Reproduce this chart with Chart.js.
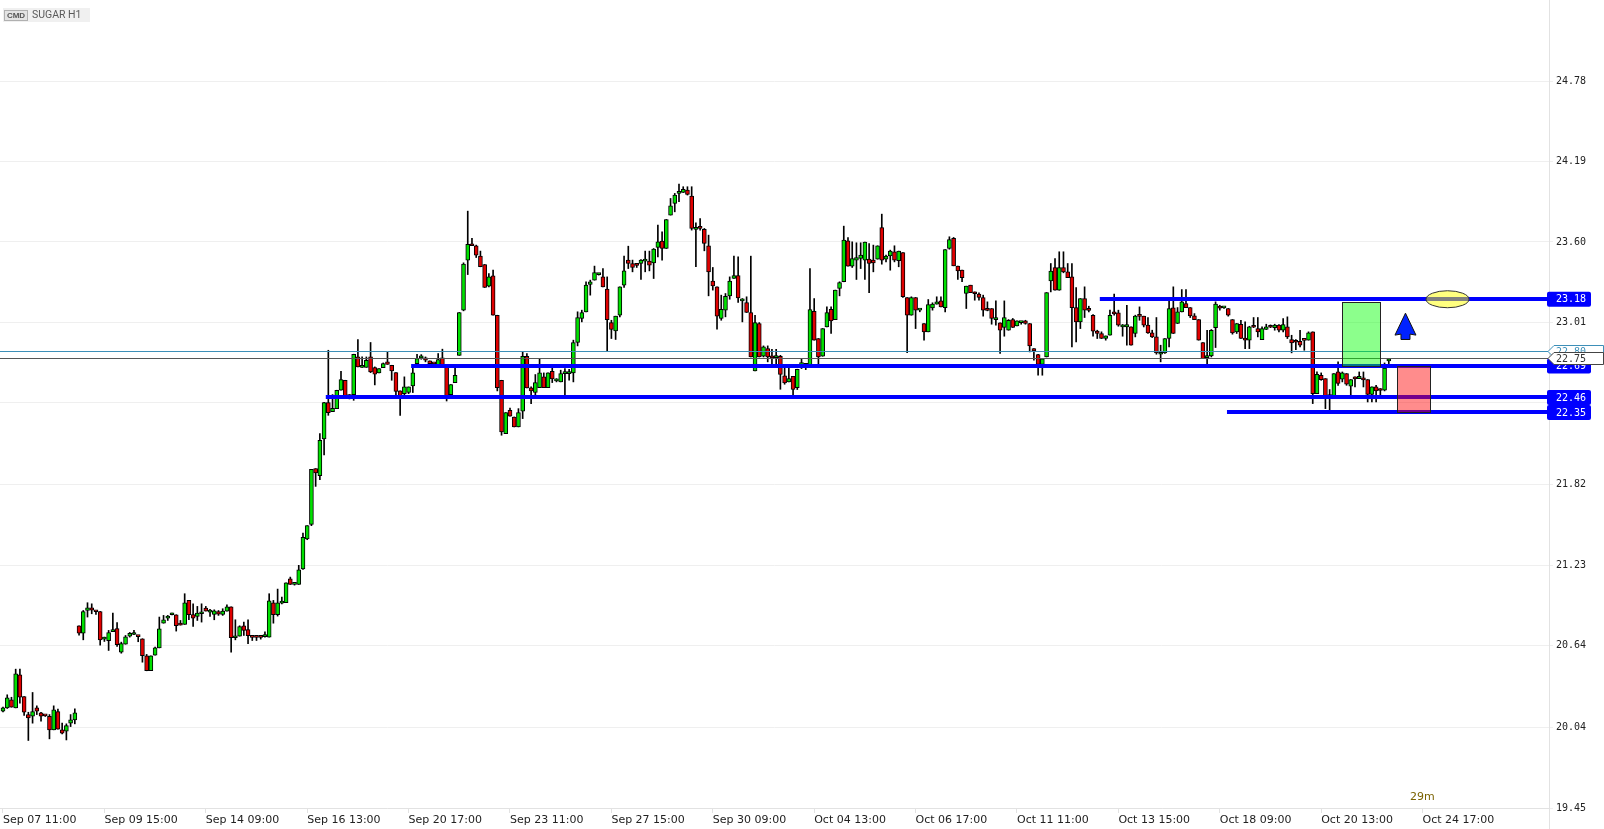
<!DOCTYPE html>
<html>
<head>
<meta charset="utf-8">
<script src="https://cdn.jsdelivr.net/npm/chart.js@4.4.0/dist/chart.umd.min.js"></script>
<style>
html, body { margin: 0; padding: 0; background: #fff; }
#wrap { position: relative; width: 1604px; height: 829px; }
</style>
</head>
<body>
<div id="wrap"><canvas id="myChart"></canvas></div>
<script>
//hourly candles (index 0 = Sep 07 11:00)
const opens = [
20.160,20.184,20.243,20.184,20.426,20.267,20.135,20.123,20.184,20.148,
20.128,20.123,20.023,20.157,20.023,20.013,20.072,20.096,20.786,20.732,
20.898,20.918,20.891,20.891,20.688,20.676,20.742,20.766,20.593,20.651,
20.710,20.722,20.708,20.691,20.566,20.456,20.571,20.624,20.805,20.842,
20.867,20.867,20.803,20.796,20.972,20.869,20.854,20.874,20.916,20.886,
20.869,20.891,20.869,20.894,20.925,20.698,20.710,20.786,20.759,20.703,
20.703,20.703,20.706,20.703,20.955,20.867,20.952,20.955,21.131,21.089,
21.089,21.202,21.422,21.530,21.938,21.887,22.156,22.422,22.356,22.378,
22.513,22.586,22.464,22.481,22.757,22.681,22.681,22.757,22.679,22.640,
22.679,22.721,22.696,22.642,22.508,22.488,22.496,22.545,22.708,22.750,
22.750,22.728,22.708,22.696,22.750,22.684,22.481,22.569,22.769,23.100,
23.467,23.582,23.572,23.496,23.435,23.276,23.352,23.063,22.586,22.195,
22.366,22.317,22.244,22.359,22.762,22.530,22.496,22.532,22.611,22.532,
22.652,22.581,22.574,22.635,22.635,22.640,22.863,23.039,23.088,23.288,
23.320,23.361,23.344,23.254,23.009,22.948,23.063,23.283,23.467,23.442,
23.430,23.442,23.459,23.459,23.447,23.560,23.606,23.552,23.797,23.882,
23.956,23.963,23.980,23.936,23.692,23.706,23.692,23.572,23.313,23.271,
23.039,23.100,23.205,23.332,23.354,23.168,23.156,23.083,22.655,23.002,
22.762,22.818,22.752,22.752,22.762,22.618,22.574,22.615,22.532,22.701,
22.696,22.696,23.092,22.892,22.762,22.977,23.107,23.031,23.259,23.308,
23.608,23.423,23.467,23.479,23.467,23.474,23.467,23.474,23.706,23.474,
23.498,23.528,23.462,23.523,23.193,23.063,23.193,23.100,23.002,22.941,
23.117,23.144,23.168,23.119,23.552,23.626,23.423,23.393,23.222,23.283,
23.222,23.217,23.193,23.100,23.112,23.031,23.007,22.973,22.953,23.031,
22.985,23.009,23.022,23.002,22.819,22.774,22.703,22.757,23.315,23.413,
23.246,23.413,23.381,23.344,23.119,23.014,23.185,23.100,23.063,22.946,
22.929,22.892,22.916,23.075,23.080,22.977,22.977,22.977,22.929,23.056,
23.056,22.990,22.933,22.904,22.777,22.787,22.892,23.117,23.002,23.087,
23.149,23.119,23.058,23.031,22.862,22.752,22.765,22.972,23.117,23.117,
23.112,23.031,22.941,22.997,22.892,22.880,22.977,22.965,22.884,22.958,
22.977,22.972,22.990,22.953,22.977,22.884,22.867,22.872,22.880,22.880,
22.941,22.488,22.623,22.598,22.452,22.464,22.647,22.594,22.635,22.542,
22.598,22.598,22.591,22.591,22.483,22.537,22.513,22.513,22.728
];
const highs = [
20.189,20.280,20.262,20.468,20.468,20.267,20.152,20.297,20.199,20.152,
20.130,20.135,20.199,20.175,20.072,20.067,20.135,20.177,20.786,20.898,
20.955,20.947,20.894,20.891,20.703,20.752,20.879,20.810,20.666,20.715,
20.737,20.752,20.710,20.691,20.576,20.566,20.629,20.850,20.862,20.862,
20.879,20.867,20.825,21.021,20.972,20.947,20.928,20.947,20.928,20.906,
20.903,20.898,20.911,20.940,20.925,20.830,20.786,20.813,20.830,20.705,
20.705,20.705,20.742,21.021,20.972,21.055,20.996,21.101,21.143,21.094,
21.229,21.466,21.520,21.933,21.938,22.195,22.425,22.806,22.481,22.513,
22.652,22.586,22.481,22.777,22.885,22.757,22.757,22.863,22.684,22.672,
22.713,22.792,22.696,22.642,22.508,22.611,22.537,22.684,22.777,22.774,
22.757,22.728,22.710,22.782,22.814,22.684,22.554,22.684,23.083,23.447,
23.826,23.626,23.577,23.533,23.435,23.369,23.393,23.063,22.586,22.349,
22.383,22.317,22.378,22.794,22.782,22.537,22.628,22.740,22.640,22.640,
22.677,22.598,22.660,22.672,22.667,22.880,23.088,23.100,23.308,23.320,
23.423,23.369,23.405,23.344,23.026,23.056,23.271,23.496,23.569,23.467,
23.437,23.471,23.533,23.533,23.552,23.723,23.675,23.765,23.919,23.956,
24.024,24.005,24.005,24.005,23.740,23.772,23.699,23.650,23.413,23.271,
23.210,23.222,23.344,23.496,23.491,23.185,23.198,23.496,23.063,23.009,
22.838,22.838,22.813,22.813,22.769,22.679,22.679,22.615,22.667,22.740,
22.708,23.405,23.185,22.892,22.965,23.124,23.124,23.247,23.308,23.716,
23.633,23.601,23.594,23.594,23.599,23.589,23.577,23.572,23.804,23.503,
23.540,23.572,23.533,23.523,23.193,23.198,23.193,23.102,23.002,23.178,
23.154,23.198,23.198,23.545,23.638,23.633,23.423,23.393,23.276,23.283,
23.234,23.227,23.210,23.161,23.112,23.168,23.007,23.168,23.031,23.039,
23.022,23.014,23.026,23.002,22.819,22.777,22.743,23.229,23.442,23.479,
23.528,23.528,23.442,23.442,23.266,23.185,23.271,23.129,23.068,22.953,
22.941,22.911,23.100,23.217,23.100,22.995,23.136,22.977,23.063,23.124,
23.056,23.046,22.953,23.046,22.843,22.892,23.185,23.271,23.119,23.251,
23.251,23.119,23.075,23.031,22.862,22.953,22.958,23.161,23.136,23.122,
23.112,23.031,23.002,23.026,23.014,22.982,23.046,23.046,22.977,22.997,
22.992,22.997,22.995,23.039,23.051,22.916,22.884,22.953,22.880,22.941,
22.941,22.647,22.640,22.598,22.518,22.635,22.721,22.647,22.635,22.591,
22.611,22.647,22.647,22.591,22.537,22.549,22.525,22.713,22.745
];
const lows = [
20.155,20.180,20.189,20.184,20.219,20.128,19.945,20.072,20.135,20.086,
20.121,19.957,20.023,20.028,19.993,19.949,20.047,20.067,20.717,20.683,
20.850,20.874,20.869,20.644,20.671,20.605,20.742,20.634,20.585,20.651,
20.703,20.720,20.669,20.519,20.456,20.456,20.571,20.624,20.805,20.825,
20.865,20.747,20.791,20.796,20.830,20.781,20.825,20.813,20.894,20.854,
20.830,20.862,20.862,20.894,20.593,20.683,20.710,20.715,20.654,20.678,
20.678,20.688,20.703,20.703,20.805,20.857,20.947,20.955,21.089,21.084,
21.089,21.200,21.417,21.520,21.808,21.857,22.038,22.329,22.356,22.378,
22.513,22.464,22.449,22.439,22.684,22.681,22.681,22.642,22.552,22.640,
22.679,22.703,22.586,22.464,22.329,22.464,22.488,22.496,22.708,22.740,
22.721,22.703,22.704,22.696,22.701,22.434,22.481,22.569,22.769,23.095,
23.361,23.572,23.486,23.418,23.266,23.271,23.063,22.508,22.183,22.195,
22.322,22.244,22.244,22.305,22.530,22.415,22.464,22.532,22.532,22.532,
22.569,22.574,22.574,22.469,22.586,22.574,22.838,23.014,23.088,23.210,
23.320,23.357,23.271,22.801,22.892,22.885,23.051,23.266,23.405,23.381,
23.413,23.325,23.381,23.388,23.332,23.491,23.467,23.552,23.797,23.821,
23.895,23.963,23.944,23.687,23.418,23.687,23.535,23.205,23.247,22.960,
23.026,23.051,23.180,23.332,23.156,23.014,23.083,22.757,22.655,22.757,
22.757,22.721,22.708,22.696,22.520,22.557,22.574,22.481,22.518,22.672,
22.664,22.690,22.880,22.696,22.762,22.977,22.929,23.031,23.205,23.308,
23.423,23.413,23.325,23.405,23.325,23.229,23.381,23.474,23.437,23.454,
23.393,23.454,23.418,23.193,22.789,23.063,22.965,23.088,22.880,22.941,
23.100,23.144,23.124,23.088,23.547,23.425,23.325,23.308,23.112,23.229,
23.173,23.173,23.056,23.095,22.997,22.990,22.782,22.909,22.953,22.973,
22.985,22.997,22.997,22.794,22.733,22.623,22.623,22.757,23.234,23.246,
23.246,23.374,23.339,22.831,22.867,22.965,23.046,23.087,22.909,22.892,
22.892,22.880,22.916,23.063,22.982,22.909,22.843,22.843,22.904,23.026,
22.977,22.929,22.899,22.777,22.721,22.782,22.831,22.929,23.002,23.087,
23.119,23.046,23.031,22.880,22.745,22.696,22.757,22.826,23.100,23.112,
23.056,22.924,22.929,22.892,22.818,22.818,22.972,22.904,22.884,22.958,
22.972,22.953,22.941,22.941,22.892,22.787,22.811,22.831,22.806,22.880,
22.415,22.488,22.586,22.378,22.354,22.452,22.549,22.574,22.549,22.464,
22.537,22.598,22.537,22.427,22.427,22.427,22.476,22.508,22.708
];
const closes = [
20.184,20.258,20.189,20.434,20.262,20.152,20.111,20.157,20.160,20.123,
20.126,20.023,20.170,20.028,19.998,20.055,20.096,20.148,20.732,20.891,
20.918,20.901,20.889,20.683,20.690,20.737,20.759,20.647,20.656,20.705,
20.730,20.724,20.706,20.566,20.456,20.566,20.624,20.764,20.830,20.844,
20.869,20.786,20.791,20.955,20.867,20.842,20.879,20.876,20.894,20.888,
20.896,20.872,20.894,20.925,20.698,20.700,20.781,20.752,20.713,20.701,
20.701,20.701,20.708,20.969,20.867,20.955,20.954,21.101,21.089,21.091,
21.197,21.434,21.520,21.933,21.906,22.146,22.422,22.349,22.381,22.513,
22.591,22.464,22.481,22.777,22.684,22.683,22.733,22.647,22.630,22.672,
22.708,22.703,22.655,22.505,22.464,22.537,22.537,22.640,22.745,22.752,
22.733,22.708,22.706,22.738,22.701,22.464,22.554,22.623,23.083,23.437,
23.582,23.572,23.503,23.418,23.266,23.344,23.063,22.532,22.207,22.349,
22.322,22.244,22.349,22.762,22.530,22.508,22.569,22.640,22.532,22.640,
22.596,22.583,22.635,22.637,22.637,22.863,23.046,23.083,23.283,23.308,
23.376,23.363,23.271,23.031,22.958,23.056,23.271,23.388,23.442,23.413,
23.428,23.467,23.461,23.430,23.547,23.601,23.552,23.765,23.865,23.944,
23.958,23.985,23.949,23.699,23.694,23.700,23.589,23.381,23.278,23.056,
23.107,23.202,23.313,23.354,23.190,23.170,23.083,22.757,23.009,22.757,
22.831,22.757,22.750,22.754,22.628,22.567,22.598,22.518,22.667,22.703,
22.698,23.105,22.880,22.757,22.965,23.083,23.022,23.247,23.303,23.613,
23.423,23.479,23.486,23.503,23.599,23.442,23.447,23.572,23.467,23.496,
23.533,23.467,23.533,23.198,23.063,23.193,23.100,23.102,22.941,23.141,
23.144,23.161,23.124,23.545,23.618,23.425,23.388,23.339,23.276,23.229,
23.220,23.193,23.100,23.098,23.039,23.033,22.953,23.046,23.026,22.973,
23.022,23.011,23.002,22.838,22.801,22.703,22.743,23.229,23.386,23.246,
23.413,23.381,23.339,23.119,23.014,23.185,23.100,23.098,22.946,22.929,
22.892,22.911,23.063,23.073,22.990,22.979,22.995,22.843,23.056,23.054,
22.990,22.933,22.904,22.787,22.779,22.892,23.112,22.929,23.087,23.161,
23.119,23.058,23.031,22.880,22.745,22.754,22.953,23.144,23.115,23.119,
23.063,22.933,23.002,22.892,22.880,22.977,22.975,22.941,22.965,22.977,
22.975,22.990,22.953,22.995,22.904,22.860,22.865,22.843,22.878,22.933,
22.488,22.630,22.591,22.452,22.481,22.635,22.562,22.640,22.557,22.591,
22.596,22.615,22.589,22.483,22.537,22.508,22.511,22.676,22.738
];

//time axis labels (every 24 candles)
const xTickIdx = [0, 24, 48, 72, 96, 120, 144, 168, 192, 216, 240, 264, 288, 312, 336];
const xTickLabels = ['Sep 07 11:00', 'Sep 09 15:00', 'Sep 14 09:00', 'Sep 16 13:00', 'Sep 20 17:00',
    'Sep 23 11:00', 'Sep 27 15:00', 'Sep 30 09:00', 'Oct 04 13:00', 'Oct 06 17:00',
    'Oct 11 11:00', 'Oct 13 15:00', 'Oct 18 09:00', 'Oct 20 13:00', 'Oct 24 17:00'];

//price axis
const yTickValues = [19.45, 20.04, 20.64, 21.23, 21.82, 22.42, 23.01, 23.60, 24.19, 24.78];
const yHiddenTick = 22.42;

//drawn levels: price and the candle where the line starts
const levelPrices = [23.18, 22.69, 22.46, 22.35];
const levelStart = [259.6, 96.6, 76.4, 289.7];

//bid / last price
const bidPrice = 22.80;
const lastPrice = 22.75;

//target / stop boxes: [fromCandle, toCandle, topPrice, bottomPrice]
const targetBox = [316.9, 326.0, 23.16, 22.69];
const stopBox = [330.0, 337.8, 22.69, 22.35];

//marker ellipse [candle, price] and up arrow [candle, tip, neck, foot]
const ellipseAt = [341.9, 23.18];
const arrowAt = [331.95, 23.078, 22.917, 22.885];

const GREEN = '#00e000';
const RED = '#e00000';

//overlay drawing: levels, boxes, axis tags, title
const overlayPlugin = {
    id: 'overlay',
    afterDatasetsDraw(chart) {
        const ctx = chart.ctx;
        const a = chart.chartArea;
        const x = chart.scales.x;
        const y = chart.scales.y;
        ctx.save();
        ctx.beginPath();
        ctx.rect(a.left, a.top, a.right - a.left, a.bottom - a.top);
        ctx.clip();

        //thin bid/last lines
        ctx.lineWidth = 1;
        [[bidPrice, '#3d8fb8'], [lastPrice, '#555555']].forEach(function (p) {
            const py = Math.round(y.getPixelForValue(p[0])) + 0.5;
            ctx.strokeStyle = p[1];
            ctx.beginPath();
            ctx.moveTo(a.left, py);
            ctx.lineTo(a.right, py);
            ctx.stroke();
        });

        //blue levels
        ctx.strokeStyle = '#0000ff';
        ctx.lineWidth = 4;
        levelPrices.forEach(function (p, k) {
            const py = Math.round(y.getPixelForValue(p));
            ctx.beginPath();
            ctx.moveTo(x.getPixelForValue(levelStart[k]), py);
            ctx.lineTo(a.right, py);
            ctx.stroke();
        });

        //target / stop boxes
        [[targetBox, 'rgba(0,255,0,0.45)'], [stopBox, 'rgba(255,0,0,0.45)']].forEach(function (b) {
            const x0 = Math.round(x.getPixelForValue(b[0][0])) + 0.5;
            const x1 = Math.round(x.getPixelForValue(b[0][1])) + 0.5;
            const y0 = Math.round(y.getPixelForValue(b[0][2])) + 0.5;
            const y1 = Math.round(y.getPixelForValue(b[0][3])) + 0.5;
            ctx.fillStyle = b[1];
            ctx.fillRect(x0, y0, x1 - x0, y1 - y0);
            ctx.strokeStyle = '#222';
            ctx.lineWidth = 1;
            ctx.strokeRect(x0, y0, x1 - x0, y1 - y0);
        });

        //ellipse marker
        const ex = x.getPixelForValue(ellipseAt[0]);
        const ey = y.getPixelForValue(ellipseAt[1]);
        ctx.beginPath();
        ctx.ellipse(ex, ey, 21.5, 8.5, 0, 0, Math.PI * 2);
        ctx.fillStyle = 'rgba(255,255,0,0.5)';
        ctx.fill();
        ctx.strokeStyle = '#333';
        ctx.lineWidth = 1;
        ctx.stroke();

        //up arrow
        const ax = x.getPixelForValue(arrowAt[0]);
        const tip = y.getPixelForValue(arrowAt[1]);
        const neck = y.getPixelForValue(arrowAt[2]);
        const foot = y.getPixelForValue(arrowAt[3]);
        ctx.beginPath();
        ctx.moveTo(ax, tip);
        ctx.lineTo(ax + 10.5, neck);
        ctx.lineTo(ax + 4.5, neck - 1);
        ctx.lineTo(ax + 4.5, foot);
        ctx.lineTo(ax - 4.5, foot);
        ctx.lineTo(ax - 4.5, neck - 1);
        ctx.lineTo(ax - 10.5, neck);
        ctx.closePath();
        ctx.fillStyle = '#0022ff';
        ctx.fill();
        ctx.strokeStyle = '#111';
        ctx.stroke();

        //bar countdown
        ctx.fillStyle = '#7a6200';
        ctx.font = '11px "DejaVu Sans"';
        ctx.textBaseline = 'middle';
        ctx.textAlign = 'left';
        ctx.fillText('29m', x.getPixelForValue(333), a.bottom - 11);
        ctx.restore();
    },
    afterDraw(chart) {
        const ctx = chart.ctx;
        const a = chart.chartArea;
        const y = chart.scales.y;
        ctx.save();

        //price axis line runs down to the bottom edge
        ctx.strokeStyle = '#e2e2e2';
        ctx.lineWidth = 1;
        ctx.beginPath();
        ctx.moveTo(a.right + 0.5, a.bottom);
        ctx.lineTo(a.right + 0.5, chart.height);
        ctx.stroke();

        ctx.font = '10px "DejaVu Sans Mono"';
        ctx.textBaseline = 'middle';
        ctx.textAlign = 'left';

        //blue level tags
        levelPrices.forEach(function (p) {
            const py = y.getPixelForValue(p);
            ctx.fillStyle = '#0000ff';
            ctx.beginPath();
            ctx.roundRect(a.right - 2, py - 7.5, 44, 15, 2);
            ctx.fill();
            ctx.fillStyle = '#ffffff';
            ctx.fillText(p.toFixed(2), a.right + 7, py + 0.5);
        });

        //bid / last tags with pointer
        [[bidPrice, '#3d8fb8', '#3d8fb8'], [lastPrice, '#444444', '#333333']].forEach(function (p) {
            const cy = Math.round(y.getPixelForValue(p[0])) + 0.5;
            const x0 = a.right - 1;
            ctx.beginPath();
            ctx.moveTo(x0, cy);
            ctx.lineTo(x0 + 6, cy - 6);
            ctx.lineTo(chart.width - 0.5, cy - 6);
            ctx.lineTo(chart.width - 0.5, cy + 6);
            ctx.lineTo(x0 + 6, cy + 6);
            ctx.closePath();
            ctx.fillStyle = '#ffffff';
            ctx.fill();
            ctx.strokeStyle = p[1];
            ctx.lineWidth = 1;
            ctx.stroke();
            ctx.fillStyle = p[2];
            ctx.fillText(p[0].toFixed(2), a.right + 7, cy + 0.5);
        });

        //title tag
        ctx.fillStyle = '#f0f0f0';
        ctx.fillRect(3, 8, 87, 14);
        ctx.fillStyle = '#e4e4e4';
        ctx.fillRect(4, 10, 24, 11);
        ctx.strokeStyle = '#b0b0b0';
        ctx.strokeRect(4.5, 10.5, 23, 10);
        ctx.fillStyle = '#555';
        ctx.font = 'bold 8px "Liberation Sans"';
        ctx.textAlign = 'center';
        ctx.fillText('CMD', 16, 16);
        ctx.font = '10.5px Roboto';
        ctx.textAlign = 'left';
        ctx.fillStyle = '#5a5a5a';
        ctx.fillText('SUGAR H1', 32, 15.5);
        ctx.restore();
    }
};

//render candle chart
function renderChart() {
    const ctx = document.getElementById('myChart');
    let bodies = [];
    let wicks = [];
    let bodyColors = [];
    for (let i = 0; i < opens.length; i++) {
        bodies.push({x: i, y: [opens[i], closes[i]]});
        wicks.push({x: i, y: [lows[i], highs[i]]});
        bodyColors.push(closes[i] >= opens[i] ? GREEN : RED);
    }
    new Chart(ctx, {
        type: 'bar',
        data: {
            datasets: [{
                data: bodies,
                backgroundColor: bodyColors,
                borderColor: '#000',
                borderWidth: 1,
                borderSkipped: false,
                barThickness: 4,
                minBarLength: 2,
                grouped: false,
                order: 1
            }, {
                data: wicks,
                backgroundColor: '#000',
                borderWidth: 0,
                barThickness: 1,
                minBarLength: 1,
                grouped: false,
                order: 2
            }]
        },
        options: {
            responsive: true,
            maintainAspectRatio: false,
            animation: false,
            devicePixelRatio: 1,
            events: [],
            layout: { padding: 0 },
            plugins: {
                legend: { display: false },
                tooltip: { enabled: false },
                title: { display: false }
            },
            scales: {
                x: {
                    type: 'linear',
                    position: 'bottom',
                    min: -0.71,
                    max: 365.92,
                    offset: false,
                    grid: { drawOnChartArea: false, drawTicks: true, tickLength: 5, color: '#e2e2e2', offset: false },
                    border: { display: true, color: '#e2e2e2' },
                    ticks: {
                        autoSkip: false,
                        maxRotation: 0,
                        align: 'start',
                        padding: 1,
                        color: '#222',
                        font: { family: 'DejaVu Sans', size: 11 },
                        callback: function (v) {
                            const k = xTickIdx.indexOf(v);
                            return k >= 0 ? xTickLabels[k] : '';
                        }
                    },
                    afterBuildTicks: function (s) {
                        s.ticks = xTickIdx.map(function (v) { return {value: v}; });
                    },
                    afterFit: function (s) {
                        s.height = 21;
                        s.paddingLeft = 0;
                        s.paddingRight = 0;
                    }
                },
                y: {
                    type: 'linear',
                    position: 'right',
                    min: 19.45,
                    max: 25.374,
                    grid: { color: '#efefef', drawTicks: true, tickLength: 4 },
                    border: { display: true, color: '#e2e2e2' },
                    ticks: {
                        padding: 3,
                        color: '#222',
                        font: { family: 'DejaVu Sans Mono', size: 10 },
                        callback: function (v) {
                            return v === yHiddenTick ? '' : v.toFixed(2);
                        }
                    },
                    afterBuildTicks: function (s) {
                        s.ticks = yTickValues.map(function (v) { return {value: v}; });
                    },
                    afterFit: function (s) {
                        s.width = 55;
                        s.paddingTop = 0;
                        s.paddingBottom = 0;
                    }
                }
            }
        },
        plugins: [overlayPlugin]
    });
}

renderChart();
</script>
</body>
</html>
